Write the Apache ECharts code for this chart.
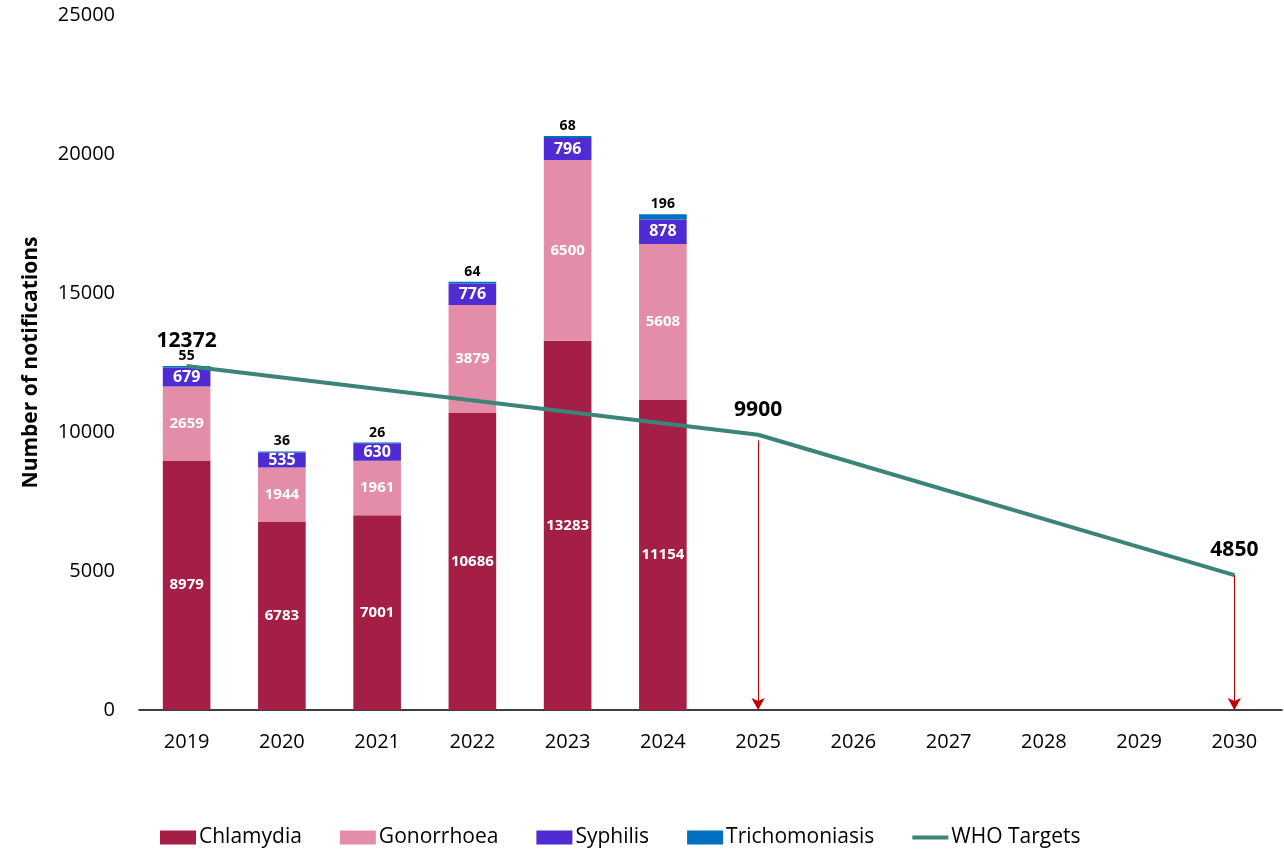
<!DOCTYPE html>
<html>
<head>
<meta charset="utf-8">
<script src="https://cdn.jsdelivr.net/npm/echarts@6/dist/echarts.min.js"></script>
<style>html,body{margin:0;padding:0;background:#fff}#c{width:1284px;height:849px}</style>
</head>
<body>
<div id="c"></div>
<script>
const years = ['2019','2020','2021','2022','2023','2024','2025','2026','2027','2028','2029','2030'];
const chlamydia = [8979, 6783, 7001, 10686, 13283, 11154, null, null, null, null, null, null];
const gonorrhoea = [2659, 1944, 1961, 3879, 6500, 5608, null, null, null, null, null, null];
const syphilis = [679, 535, 630, 776, 796, 878, null, null, null, null, null, null];
const trichomoniasis = [55, 36, 26, 64, 68, 196, null, null, null, null, null, null];
const whoTargets = [12372, null, null, null, null, null, 9900, null, null, null, null, 4850];
const arrowStarts = [['2025', 9700], ['2030', 4850]];

const FONT = "'Open Sans', sans-serif";
const chart = echarts.init(document.getElementById('c'));
const inLabel = (size) => ({show: true, position: 'inside', color: '#fff', fontWeight: 'bold', fontSize: size, fontFamily: FONT});
chart.setOption({
  animation: false,
  grid: {left: 139, right: 2, top: 15, bottom: 139, containLabel: false},
  legend: {
    top: 822, left: 155, itemWidth: 36, itemHeight: 14, itemGap: 38,
    textStyle: {fontSize: 21, fontFamily: FONT, color: '#000', padding: [0, 0, 0, -2]},
    data: [{name: 'Chlamydia', icon: 'rect'}, {name: 'Gonorrhoea', icon: 'rect'},
      {name: 'Syphilis', icon: 'rect'}, {name: 'Trichomoniasis', icon: 'rect'},
      {name: 'WHO Targets', icon: 'path://M0,0 L36,0 L36,4 L0,4 Z'}]
  },
  xAxis: {
    type: 'category', data: years,
    axisLine: {lineStyle: {color: '#000', width: 1.5}},
    axisTick: {show: false},
    axisLabel: {color: '#000', fontSize: 20, fontFamily: FONT, margin: 22}
  },
  yAxis: {
    type: 'value', min: 0, max: 25000, interval: 5000,
    name: 'Number of notifications', nameLocation: 'middle', nameGap: 97,
    nameTextStyle: {fontSize: 21, fontWeight: 'bold', fontFamily: FONT, color: '#000'},
    splitLine: {show: false},
    axisLine: {show: false}, axisTick: {show: false},
    axisLabel: {color: '#000', fontSize: 20, fontFamily: FONT, margin: 24, formatter: v => String(v)}
  },
  series: [
    {name: 'Chlamydia', type: 'bar', stack: 't', barWidth: '50%', data: chlamydia,
      itemStyle: {color: '#A51E45'}, label: inLabel(15)},
    {name: 'Gonorrhoea', type: 'bar', stack: 't', data: gonorrhoea,
      itemStyle: {color: '#E38DA8'}, label: inLabel(15)},
    {name: 'Syphilis', type: 'bar', stack: 't', data: syphilis,
      itemStyle: {color: '#4F2BD3'}, label: inLabel(16)},
    {name: 'Trichomoniasis', type: 'bar', stack: 't', data: trichomoniasis,
      itemStyle: {color: '#0070C0'},
      label: {show: true, position: 'top', color: '#000', fontWeight: 'bold', fontSize: 14, fontFamily: FONT, distance: 3}},
    {name: 'WHO Targets', type: 'line', data: whoTargets, connectNulls: true,
      symbol: 'circle', symbolSize: 1, itemStyle: {color: '#3A8577'},
      lineStyle: {color: '#3A8577', width: 4},
      label: {show: true, position: 'top', distance: 14, color: '#000', fontWeight: 'bold', fontSize: 21, fontFamily: FONT},
      markLine: {
        silent: true, symbol: ['none', 'arrow'], symbolSize: [10, 12],
        label: {show: false},
        lineStyle: {color: '#C00000', width: 1, type: 'solid'},
        data: arrowStarts.map(s => [{coord: s}, {coord: [s[0], 0]}])
      }
    }
  ]
});
</script>
</body>
</html>
